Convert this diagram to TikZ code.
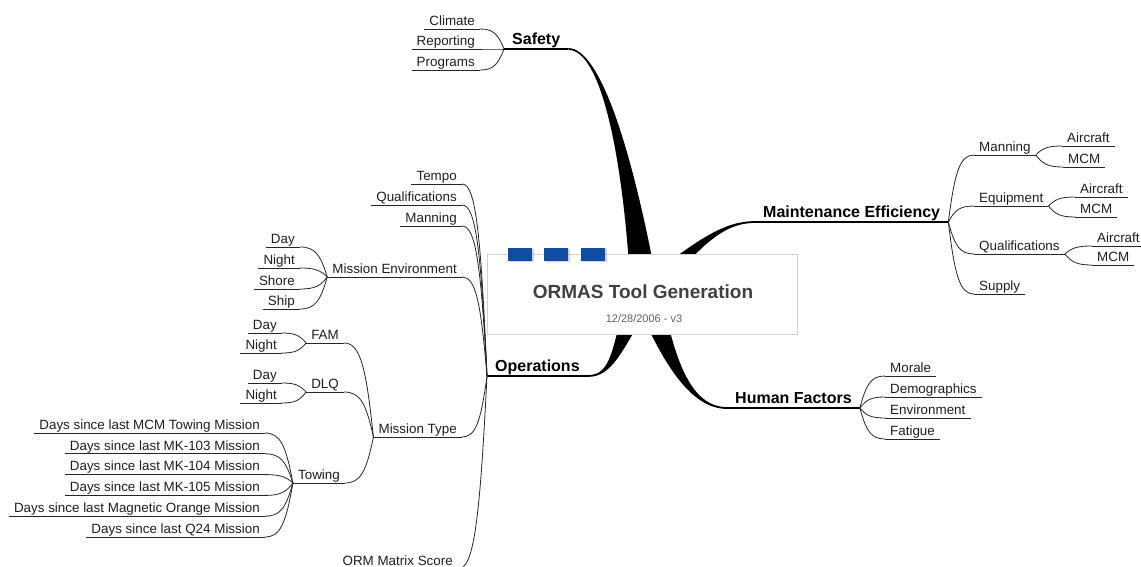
\documentclass[tikz,border=0pt]{standalone}
\usepackage{fontspec}
\setmainfont{Liberation Sans}
\usetikzlibrary{calc,shadows}
\definecolor{boxblue}{RGB}{16,76,160}
\definecolor{txt}{RGB}{30,30,30}
\newcommand\conn[2]{\draw[subline] let \p1=(#1),\p2=(#2) in (\p1) .. controls ({\x1+0.25*(\x2-\x1)},{\y1+0.75*(\y2-\y1)}) and ({\x1+0.45*(\x2-\x1)},\y2) .. (\p2);}
\tikzset{
  topic/.style={font=\fontsize{13.4}{15}\selectfont, text=txt, inner xsep=5pt, inner ysep=0.5pt, text height=9.6pt, text depth=3pt},
  lt/.style={topic, anchor=south east},
  rt/.style={topic, anchor=south west},
  mainnode/.style={font=\fontsize{16}{18}\selectfont\bfseries, anchor=south west, inner xsep=8pt, inner ysep=1pt, text height=11.5pt, text depth=3pt},
  subline/.style={line width=0.8pt, black!85},
  mainline/.style={line width=1.8pt},
  sq/.style={fill=boxblue, minimum width=24pt, minimum height=13pt, inner sep=0pt, drop shadow={shadow xshift=1.5pt, shadow yshift=-1.5pt, fill=black!35}},
}
\begin{document}
\begin{tikzpicture}[x=1pt,y=-1pt]
\useasboundingbox (0,0) rectangle (1141,567);
% main topics
\node[mainnode] (safety) at (504,49) {Safety};
\node[mainnode] (maint) at (755,222) {Maintenance Efficiency};
\node[mainnode] (human) at (727,408) {Human Factors};
\node[mainnode] (ops) at (487,376) {Operations};
\coordinate (c) at (645,295);
% tapered main branches
\fill ($(safety.south east)+(0,-0.9)$) .. controls (600,48.1) and (633,150) .. (659,295) -- (631,295) .. controls (623,150) and (600,49.9) .. ($(safety.south east)+(0,0.9)$) -- cycle;
\fill ($(maint.south west)+(0,-0.9)$) .. controls (725,221.1) and (698,238) .. (637,287) -- (653,303) .. controls (702,242) and (725,222.9) .. ($(maint.south west)+(0,0.9)$) -- cycle;
\fill ($(human.south west)+(0,-0.9)$) .. controls (690,407.1) and (674,358) .. (661,291) -- (635,299) .. controls (662,362) and (690,408.9) .. ($(human.south west)+(0,0.9)$) -- cycle;
\fill ($(ops.south east)+(0,-0.9)$) .. controls (612,375.1) and (612,348) .. (628,290) -- (652,300) .. controls (622,352) and (612,376.9) .. ($(ops.south east)+(0,0.9)$) -- cycle;
\foreach \nn in {safety,maint,human,ops} \draw[mainline] (\nn.south west) -- (\nn.south east);
% central box
\node[draw=black!18, fill=white, minimum width=310pt, minimum height=80pt, inner sep=0pt] (box) at (642,294) {};
\node[sq] (b1) at (520,254) {};
\node[sq] (b2) at (556,254) {};
\node[sq] (b3) at (593,254) {};
\node[font=\fontsize{19}{22}\selectfont\bfseries, text=black!75] (title) at (643,292) {ORMAS Tool Generation};
\node[font=\fontsize{11}{13}\selectfont, text=black!62] (date) at (644,319) {12/28/2006 - v3};
% Safety
\node[lt] (climate) at (480,29) {Climate};
\node[lt] (reporting) at (480,49) {Reporting};
\node[lt] (programs) at (480,70) {Programs};
% Maintenance Efficiency
\node[rt] (mman) at (974,155) {Manning};
\node[rt] (mequ) at (974,206) {Equipment};
\node[rt] (mqual) at (974,254) {Qualifications};
\node[rt] (msup) at (974,294) {Supply};
\node[rt] (mmanA) at (1062,146) {Aircraft};
\node[rt] (mmanM) at (1063,167) {MCM};
\node[rt] (mequA) at (1075,197) {Aircraft};
\node[rt] (mequM) at (1075,217) {MCM};
\node[rt] (mqualA) at (1092,246) {Aircraft};
\node[rt] (mqualM) at (1092,265) {MCM};
% Human Factors
\node[rt] (morale) at (885,376) {Morale};
\node[rt] (demo) at (885,397) {Demographics};
\node[rt] (env) at (885,418) {Environment};
\node[rt] (fatigue) at (885,439) {Fatigue};
% Operations
\node[lt] (tempo) at (462,184) {Tempo};
\node[lt] (oqual) at (462,205) {Qualifications};
\node[lt] (oman) at (462,226) {Manning};
\node[lt] (menv) at (462,277) {Mission Environment};
\node[lt] (mtype) at (462,437) {Mission Type};
\node[lt] (orm) at (458,569) {ORM Matrix Score};
\node[lt] (eday) at (300,247) {Day};
\node[lt] (enight) at (300,268) {Night};
\node[lt] (eshore) at (300,289) {Shore};
\node[lt] (eship) at (300,309) {Ship};
\node[lt] (fam) at (344,343) {FAM};
\node[lt] (dlq) at (344,392) {DLQ};
\node[lt] (towing) at (345,483) {Towing};
\node[lt] (fday) at (282,333) {Day};
\node[lt] (fnight) at (282,353) {Night};
\node[lt] (dday) at (282,383) {Day};
\node[lt] (dnight) at (282,403) {Night};
\node[lt] (t1) at (265,433) {Days since last MCM Towing Mission};
\node[lt] (t2) at (265,453.8) {Days since last MK-103 Mission};
\node[lt] (t3) at (265,474.6) {Days since last MK-104 Mission};
\node[lt] (t4) at (265,495.4) {Days since last MK-105 Mission};
\node[lt] (t5) at (265,516.2) {Days since last Magnetic Orange Mission};
\node[lt] (t6) at (265,537) {Days since last Q24 Mission};
% underlines
\foreach \nn in {climate,reporting,programs,mman,mequ,mqual,msup,mmanA,mmanM,mequA,mequM,mqualA,mqualM,morale,demo,env,fatigue,tempo,oqual,oman,menv,mtype,orm,eday,enight,eshore,eship,fam,dlq,towing,fday,fnight,dday,dnight,t1,t2,t3,t4,t5,t6}
  \draw[subline] (\nn.south west) -- (\nn.south east);
% connectors, left-growing
\foreach \srcn/\dstn in {safety/climate,safety/reporting,safety/programs,ops/tempo,ops/oqual,ops/oman,ops/menv,ops/mtype,ops/orm,menv/eday,menv/enight,menv/eshore,menv/eship,mtype/fam,mtype/dlq,mtype/towing,fam/fday,fam/fnight,dlq/dday,dlq/dnight,towing/t1,towing/t2,towing/t3,towing/t4,towing/t5,towing/t6}
  {\conn{\srcn.south west}{\dstn.south east}}
% connectors, right-growing
\foreach \srcn/\dstn in {maint/mman,maint/mequ,maint/mqual,maint/msup,mman/mmanA,mman/mmanM,mequ/mequA,mequ/mequM,mqual/mqualA,mqual/mqualM,human/morale,human/demo,human/env,human/fatigue}
  {\conn{\srcn.south east}{\dstn.south west}}
\end{tikzpicture}
\end{document}
